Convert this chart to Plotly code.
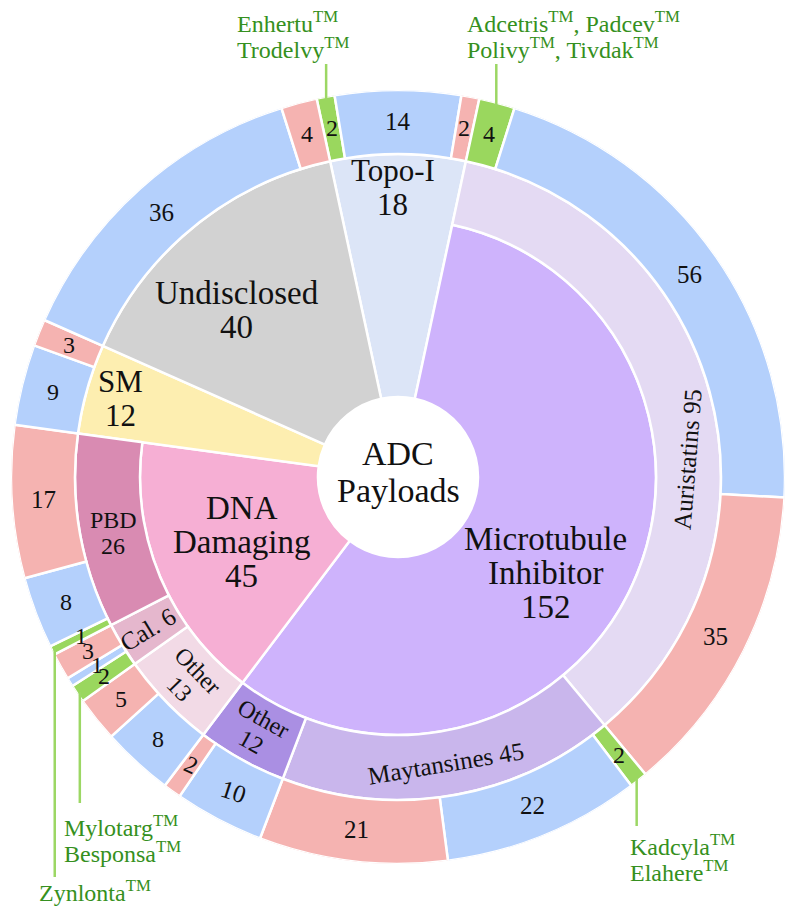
import math
import plotly.graph_objects as go

# ---------------- data ----------------
payload_classes = ["Topo-I", "Microtubule Inhibitor", "DNA Damaging", "SM", "Undisclosed"]
payload_counts = [18, 152, 45, 12, 40]

subclass_names = ["Auristatins", "Maytansines", "Other", "Other", "Cal.", "PBD"]
subclass_parents = ["Microtubule Inhibitor", "Microtubule Inhibitor", "Microtubule Inhibitor",
                    "DNA Damaging", "DNA Damaging", "DNA Damaging"]
subclass_counts = [95, 45, 12, 13, 6, 26]

outer_groups = ["Topo-I", "Auristatins", "Maytansines", "Other (MT)", "Other (DNA)",
                "Cal.", "PBD", "SM", "Undisclosed"]
approved = [2, 4, 2, 0, 0, 2, 1, 0, 0]
clinical = [14, 56, 22, 10, 8, 1, 8, 9, 36]
discontinued = [2, 35, 21, 2, 5, 3, 17, 3, 4]

approved_drugs = {
    "Topo-I": ["Enhertu<sup>TM</sup>", "Trodelvy<sup>TM</sup>"],
    "Auristatins": ["Adcetris<sup>TM</sup>, Padcev<sup>TM</sup>", "Polivy<sup>TM</sup>, Tivdak<sup>TM</sup>"],
    "Maytansines": ["Kadcyla<sup>TM</sup>", "Elahere<sup>TM</sup>"],
    "Cal.": ["Mylotarg<sup>TM</sup>", "Besponsa<sup>TM</sup>"],
    "PBD": ["Zynlonta<sup>TM</sup>"],
}

# ---------------- styling / geometry ----------------
PAGE_W, PAGE_H = 800, 921
BODY = 8                       # default page margin around the plot div
FW, FH = PAGE_W - 2 * BODY, PAGE_H - 2 * BODY
CX, CY, R = 398, 477, 387      # page pixels
R_HOLE, R1, R2, R3 = 80, 258, 323, 387
FONT = "Liberation Serif, Times New Roman, DejaVu Serif, serif"

class_colors = {"Topo-I": "#DCE5F7", "Microtubule Inhibitor": "#CEB3FC", "DNA Damaging": "#F6AFD4",
                "SM": "#FDEEB0", "Undisclosed": "#D2D2D2"}
subclass_colors = ["#E4DAF3", "#C9B6EC", "#AA8FE3", "#F2DAE6", "#E5B7CD", "#D98BB2"]
GREEN, BLUE, RED = "#9AD75E", "#B4D0FC", "#F5B3B1"
TEXT_GREEN = "#359020"
LINE_GREEN = "#9CD764"

DEG = 360.0 / sum(payload_counts)
start = -payload_counts[0] / 2 * DEG


def polar_px(r, th):
    t = math.radians(th)
    return CX + r * math.sin(t), CY - r * math.cos(t)


def paper(px, py):
    return (px - BODY) / FW, 1 - (py - BODY) / FH


annotations = []


def add_label(r, th, lines, size, angle=0, spacing=None, color="#111111"):
    if spacing is None:
        spacing = size * 1.05
    px, py = polar_px(r, th)
    a = math.radians(angle)
    dx, dy = -math.sin(a), math.cos(a)
    n = len(lines)
    for i, ln in enumerate(lines):
        off = (i - (n - 1) / 2) * spacing
        x, y = paper(px + dx * off, py + dy * off)
        annotations.append(dict(x=x, y=y, xref="paper", yref="paper", text=ln, showarrow=False,
                                xanchor="center", yanchor="middle", textangle=angle,
                                font=dict(family=FONT, size=size, color=color)))


fig = go.Figure()

# ---- level 1 ----
has_sub = set(subclass_parents)
th_c, w_c, base_c, r_c, col_c = [], [], [], [], []
class_mid = {}
cum = start
for name, v in zip(payload_classes, payload_counts):
    mid = cum + v * DEG / 2
    class_mid[name] = mid
    th_c.append(mid)
    w_c.append(v * DEG)
    base_c.append(R_HOLE)
    r_c.append((R1 if name in has_sub else R2) - R_HOLE)
    col_c.append(class_colors[name])
    cum += v * DEG
fig.add_trace(go.Barpolar(theta=th_c, width=w_c, base=base_c, r=r_c,
                          marker=dict(color=col_c, line=dict(color="white", width=2.5)),
                          hoverinfo="skip", showlegend=False))

# ---- level 2 ----
sub_start = start + payload_counts[0] * DEG
th_s, w_s, sub_mid = [], [], []
cum = sub_start
for v in subclass_counts:
    th_s.append(cum + v * DEG / 2)
    w_s.append(v * DEG)
    sub_mid.append(cum + v * DEG / 2)
    cum += v * DEG
fig.add_trace(go.Barpolar(theta=th_s, width=w_s, base=[R1] * len(th_s), r=[R2 - R1] * len(th_s),
                          marker=dict(color=subclass_colors, line=dict(color="white", width=2.5)),
                          hoverinfo="skip", showlegend=False))

# ---- outer ring ----
th_o, w_o, col_o, val_o, grp_o, kind_o = [], [], [], [], [], []
cum = start
for g, a_, c_, d_ in zip(outer_groups, approved, clinical, discontinued):
    for v, col, kind in ((a_, GREEN, "a"), (c_, BLUE, "c"), (d_, RED, "d")):
        if v == 0:
            continue
        th_o.append(cum + v * DEG / 2)
        w_o.append(v * DEG)
        col_o.append(col)
        val_o.append(v)
        grp_o.append(g)
        kind_o.append(kind)
        cum += v * DEG
fig.add_trace(go.Barpolar(theta=th_o, width=w_o, base=[R2] * len(th_o), r=[R3 - R2] * len(th_o),
                          marker=dict(color=col_o, line=dict(color="white", width=2.5)),
                          hoverinfo="skip", showlegend=False))

# ---------------- labels ----------------
add_label(5, 0, ["ADC", "Payloads"], 34, spacing=37)

class_label_pos = {"Topo-I": (290, -1), "Microtubule Inhibitor": (176, 123),
                   "DNA Damaging": (169, None), "SM": (288, None), "Undisclosed": (232, 316)}
class_label_size = {"Topo-I": 31, "Microtubule Inhibitor": 33, "DNA Damaging": 33,
                    "SM": 31, "Undisclosed": 33}
for name, v in zip(payload_classes, payload_counts):
    r, th = class_label_pos[name]
    if th is None:
        th = class_mid[name]
    add_label(r, th, name.split(" ") + [str(v)], class_label_size[name], spacing=34)

# subclass labels: (r, theta override, angle, two-line?)
sub_label_style = [(290, 86.5, -85.5, False), (290, None, None, False), (290, None, None, True),
                   (292, None, None, True), (293, None, "radial", False), (290, 258.9, 0, True)]
for name, v, mid, (r, th, ang, two) in zip(subclass_names, subclass_counts, sub_mid, sub_label_style):
    if th is None:
        th = mid
    if ang is None:
        ang = th - 180
    elif ang == "radial":
        ang = th - 270
    lines = [name, str(v)] if two else [f"{name} {v}"]
    add_label(r, th, lines, 25 if not two else 24, angle=ang, spacing=26)

# outer ring numbers
for th, v, g, k in zip(th_o, val_o, grp_o, kind_o):
    ang = 0
    if g == "Other (MT)":
        ang = 18 if k == "c" else 25
    add_label(355, th, [str(v)], 25 if v >= 10 else 24, angle=ang)

# ---------------- approved-drug call-outs ----------------
callout_text_pos = {  # left x, first-line y (page px), line end y (page px)
    "Topo-I": (235, 22, 64),
    "Auristatins": (465, 22, 64),
    "Maytansines": (628, 845, 826),
    "Cal.": (62, 826, 803),
    "PBD": (37, 891, 877),
}
shapes = []
for th, g, k in zip(th_o, grp_o, kind_o):
    if k != "a":
        continue
    ex, ey = polar_px(R3 - 3, th)
    lx, ly, lend = callout_text_pos[g]
    x0, y0 = paper(ex, ey)
    _, y1 = paper(ex, lend)
    shapes.append(dict(type="line", xref="paper", yref="paper", x0=x0, x1=x0, y0=y0, y1=y1,
                       line=dict(color=LINE_GREEN, width=2.5), layer="above"))
    for i, ln in enumerate(approved_drugs[g]):
        x, y = paper(lx, ly + i * 26)
        annotations.append(dict(x=x, y=y, xref="paper", yref="paper", text=ln, showarrow=False,
                                xanchor="left", yanchor="middle",
                                font=dict(family=FONT, size=24, color=TEXT_GREEN)))

fig.update_layout(
    width=FW, height=FH, margin=dict(l=0, r=0, t=0, b=0),
    paper_bgcolor="white", plot_bgcolor="white",
    polar=dict(
        domain=dict(x=[(CX - R - BODY) / FW, (CX + R - BODY) / FW],
                    y=[1 - (CY + R - BODY) / FH, 1 - (CY - R - BODY) / FH]),
        bgcolor="white", barmode="overlay",
        radialaxis=dict(range=[0, R], visible=False, showgrid=False),
        angularaxis=dict(rotation=90, direction="clockwise", visible=False, showgrid=False),
    ),
    annotations=annotations, shapes=shapes, showlegend=False,
)

fig.write_html("out.html")
